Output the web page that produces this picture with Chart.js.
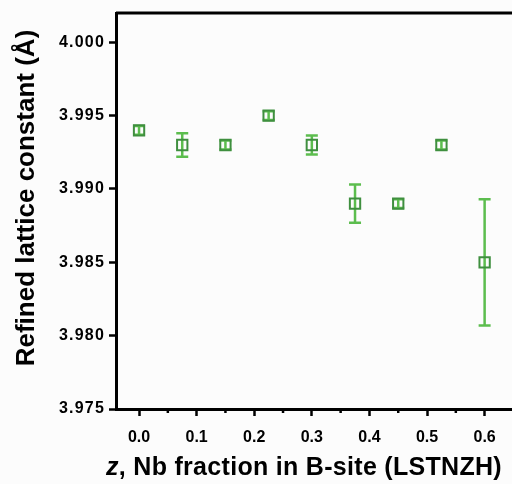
<!DOCTYPE html>
<html>
<head>
<meta charset="utf-8">
<script src="https://cdn.jsdelivr.net/npm/chart.js@4/dist/chart.umd.min.js"></script>
<style>
html,body{margin:0;padding:0;background:#fcfcfc;overflow:hidden;width:512px;height:484px;}
#wrap{width:540px;height:484px;}
</style>
</head>
<body>
<div id="wrap"><canvas id="c" width="540" height="484"></canvas></div>
<script>
// Data
const nbFraction = [0.0, 0.075, 0.15, 0.225, 0.3, 0.375, 0.45, 0.525, 0.6];
const latticeConstant = [3.994, 3.993, 3.993, 3.995, 3.993, 3.989, 3.989, 3.993, 3.985];
const latticeError = [0.0003, 0.0008, 0.0003, 0.0003, 0.00065, 0.0013, 0.0003, 0.0003, 0.0043];
const xTickValues = [0.0, 0.1, 0.2, 0.3, 0.4, 0.5, 0.6];
const xMinorTickValues = [0.05, 0.15, 0.25, 0.35, 0.45, 0.55, 0.65];
const yTickValues = [3.975, 3.980, 3.985, 3.990, 3.995, 4.000];
const xTitleItalic = 'z';
const xTitleRest = ', Nb fraction in B-site (LSTNZH)';
const yTitle = 'Refined lattice constant (Å)';

const FONT = '"Liberation Sans", Arial, sans-serif';
const markerColor = '#3f8f3f';
const barColor = '#5cbd4e';

const extrasPlugin = {
  id: 'extras',
  afterLayout(chart) {
    const ys = chart.scales.y;
    if (!ys._lsWrapped) {
      const orig = ys.drawLabels.bind(ys);
      ys.drawLabels = function (area) {
        const c = this.ctx;
        const prev = c.letterSpacing;
        c.letterSpacing = '1.2px';
        orig(area);
        c.letterSpacing = prev || '0px';
      };
      ys._lsWrapped = true;
    }
  },
  beforeDatasetsDraw(chart) {
    const ctx = chart.ctx, xs = chart.scales.x, ys = chart.scales.y;
    ctx.save();
    ctx.strokeStyle = barColor;
    ctx.lineWidth = 2.5;
    nbFraction.forEach((xv, i) => {
      const px = xs.getPixelForValue(xv);
      const top = ys.getPixelForValue(latticeConstant[i] + latticeError[i]);
      const bot = ys.getPixelForValue(latticeConstant[i] - latticeError[i]);
      ctx.beginPath();
      ctx.moveTo(px, top); ctx.lineTo(px, bot);
      ctx.moveTo(px - 6, top); ctx.lineTo(px + 6, top);
      ctx.moveTo(px - 6, bot); ctx.lineTo(px + 6, bot);
      ctx.stroke();
    });
    ctx.restore();
  },
  afterDraw(chart) {
    const ctx = chart.ctx, xs = chart.scales.x, ca = chart.chartArea;
    ctx.save();
    // frame top and right
    ctx.strokeStyle = '#000';
    ctx.lineWidth = 3;
    ctx.beginPath();
    ctx.moveTo(ca.left, ca.top); ctx.lineTo(ca.right, ca.top); ctx.lineTo(ca.right, ca.bottom);
    ctx.stroke();
    // minor ticks on x
    ctx.lineWidth = 2.5;
    xMinorTickValues.forEach(v => {
      const px = xs.getPixelForValue(v);
      ctx.beginPath();
      ctx.moveTo(px, ca.bottom); ctx.lineTo(px, ca.bottom + 4);
      ctx.stroke();
    });
    // x title with italic z
    ctx.fillStyle = '#000';
    ctx.textBaseline = 'alphabetic';
    ctx.letterSpacing = '0.3px';
    const fItal = 'italic bold 25px ' + FONT;
    const fBold = 'bold 25px ' + FONT;
    ctx.font = fItal; const w1 = ctx.measureText(xTitleItalic).width;
    ctx.font = fBold; const w2 = ctx.measureText(xTitleRest).width;
    const cx = ca.left + 188;
    let sx = cx - (w1 + w2) / 2;
    const by = ca.bottom + 66;
    ctx.font = fItal; ctx.fillText(xTitleItalic, sx, by);
    ctx.font = fBold; ctx.fillText(xTitleRest, sx + w1, by);
    // y title
    ctx.letterSpacing = '0px';
    ctx.translate(34, ca.top + 185);
    ctx.rotate(-Math.PI / 2);
    ctx.textAlign = 'center';
    ctx.font = 'bold 26px ' + FONT;
    ctx.fillText(yTitle, 0, 0);
    ctx.restore();
  }
};

new Chart(document.getElementById('c'), {
  type: 'scatter',
  data: {
    datasets: [{
      data: nbFraction.map((x, i) => ({ x: x, y: latticeConstant[i] })),
      pointStyle: 'rect',
      pointRadius: 7.3,
      pointHoverRadius: 7.3,
      pointBorderWidth: 2,
      pointBorderColor: markerColor,
      pointBackgroundColor: 'rgba(0,0,0,0)',
      showLine: false
    }]
  },
  options: {
    responsive: false,
    animation: false,
    events: [],
    layout: { padding: { top: 13, right: 9.3, left: 0, bottom: 0 } },
    plugins: { legend: { display: false }, tooltip: { enabled: false } },
    scales: {
      x: {
        type: 'linear',
        min: -0.04,
        max: 0.68,
        afterBuildTicks: s => { s.ticks = xTickValues.map(v => ({ value: v })); },
        afterFit: s => { s.height = 75; s.paddingLeft = 0; s.paddingRight = 0; },
        border: { display: true, color: '#000', width: 3 },
        grid: { drawOnChartArea: false, drawTicks: true, tickLength: 7, tickColor: '#000', tickWidth: 2.5 },
        ticks: {
          color: '#000',
          padding: 12,
          font: { family: FONT, size: 16, weight: 'bold' },
          callback: v => Number(v).toFixed(1),
          maxRotation: 0
        }
      },
      y: {
        type: 'linear',
        min: 3.975,
        max: 4.002,
        afterBuildTicks: s => { s.ticks = yTickValues.map(v => ({ value: v })); },
        afterFit: s => { s.width = 116; s.paddingTop = 0; s.paddingBottom = 0; },
        border: { display: true, color: '#000', width: 3 },
        grid: { drawOnChartArea: false, drawTicks: true, tickLength: 7, tickColor: '#000', tickWidth: 2.5 },
        ticks: {
          color: '#000',
          padding: 4,
          font: { family: FONT, size: 16, weight: 'bold' },
          callback: v => Number(v).toFixed(3)
        }
      }
    }
  },
  plugins: [extrasPlugin]
});
</script>
</body>
</html>
